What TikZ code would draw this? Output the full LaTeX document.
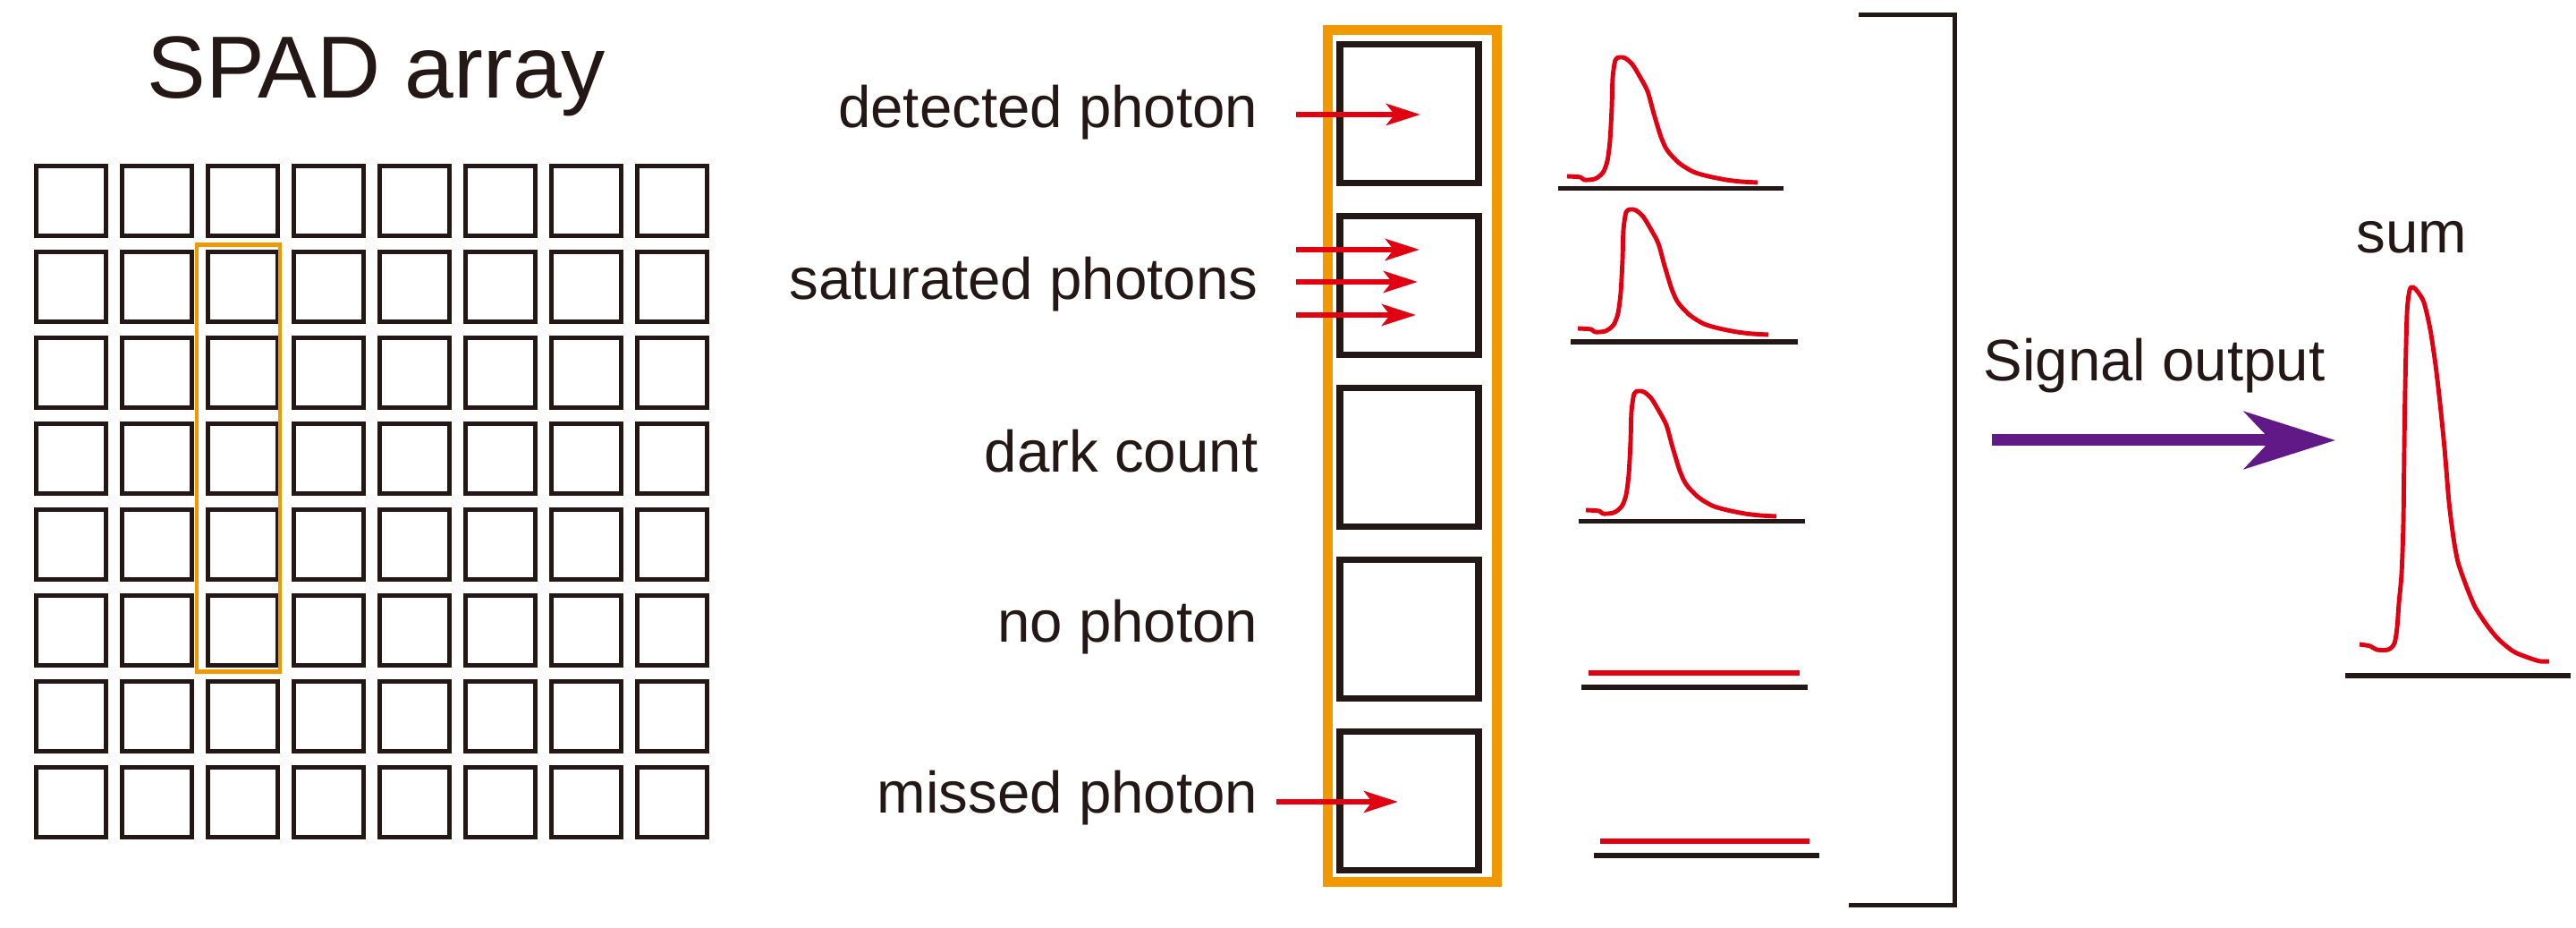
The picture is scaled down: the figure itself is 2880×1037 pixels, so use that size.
\documentclass[tikz,border=0pt]{standalone}
\usepackage{fontspec}
\setmainfont{Liberation Sans}
\usetikzlibrary{arrows.meta}
\definecolor{ink}{RGB}{35,24,21}
\definecolor{sigred}{RGB}{225,0,18}
\definecolor{hlorange}{RGB}{240,152,0}
\definecolor{outpurple}{RGB}{96,25,134}
\begin{document}
\begin{tikzpicture}[x=0.01cm, y=-0.01cm,
  cell/.style={draw=ink, line width=1.42pt, minimum size=0.77cm, inner sep=0pt, outer sep=0pt},
  bigcell/.style={draw=ink, line width=2.2pt, minimum size=1.55cm, inner sep=0pt, outer sep=0pt},
  lab/.style={text=ink, font=\fontsize{18.6}{22}\selectfont, inner sep=0pt, anchor=base east},
  txt/.style={text=ink, font=\fontsize{18.6}{22}\selectfont, inner sep=0pt, anchor=base west},
  photon/.style={draw=sigred, line width=1.85pt, -{Stealth[length=10.8pt,width=6.8pt,inset=2.6pt]}},
  pulse/.style={draw=sigred, line width=1.4pt, line join=round},
  flatln/.style={draw=sigred, line width=1.56pt},
  baseln/.style={draw=ink, line width=1.56pt},
  hlbox/.style={draw=hlorange},
  outarrow/.style={draw=outpurple, line width=3.7pt, -{Stealth[length=29pt,width=18.2pt,inset=8.5pt]}},
  smallpulse/.pic={\draw[pulse] plot[smooth, tension=0.45] coordinates {(-60,133) (-45,134) (-41,137) (-29,136) (-20,129) (-15,116) (-12,93) (-10,56) (-9,23) (-6,3) (-1,0) (5,1) (13,8) (21,21) (30,38) (37,63) (45,89) (52,104) (65,118) (81,128) (98,133) (118,137) (135,139) (153,140)};},
  sumpulse/.pic={\draw[pulse] plot[smooth, tension=0.45] coordinates {(-59,399) (-47,401) (-40,405) (-27,405) (-20,398) (-17,380) (-15,353) (-12,320) (-10,263) (-9,180) (-8,113) (-6,30) (-3,3) (1,0) (6,5) (13,17) (20,47) (26,87) (31,130) (36,180) (41,240) (46,280) (51,307) (60,333) (70,357) (83,377) (96,393) (113,407) (130,414) (143,418) (153,418)};}
]
\fill[white] (0,0) rectangle (2880,1037);
\useasboundingbox (0,0) rectangle (2880,1037);

% title
\node[text=ink, font=\fontsize{28}{32}\selectfont, inner sep=0pt, anchor=base] (title) at (421,110) {SPAD array};

% SPAD grid
\foreach \r in {0,...,7}{
  \foreach \c in {0,...,7}{
    \node[cell] (g\r\c) at ({79.5+96*\c},{224.5+96*\r}) {};
  }
}
\draw[hlbox, line width=1.42pt] (220,273.5) rectangle (313,751);

% enlarged column
\draw[hlbox, line width=3.13pt] (1484,34) rectangle (1673,986);
\foreach \k/\n in {0/b1,1/b2,2/b3,3/b4,4/b5}{
  \node[bigcell] (\n) at (1575.5,{127+192*\k}) {};
}

% labels
\node[lab] (l1) at (1407,143) {detected photon};
\node[lab] (l2) at (1407,335) {saturated photons};
\node[lab] (l3) at (1407,528) {dark count};
\node[lab] (l4) at (1407,718) {no photon};
\node[lab] (l5) at (1407,909) {missed photon};

% photon arrows
\coordinate (a1s) at (1449,128); \coordinate (a1e) at (1588,128);
\coordinate (a2s) at (1449,279); \coordinate (a2e) at (1587,279);
\coordinate (a3s) at (1449,315); \coordinate (a3e) at (1585,315);
\coordinate (a4s) at (1449,352); \coordinate (a4e) at (1583,352);
\coordinate (a5s) at (1427,896); \coordinate (a5e) at (1563,896);
\draw[photon] (a1s) -- (a1e);
\draw[photon] (a2s) -- (a2e);
\draw[photon] (a3s) -- (a3e);
\draw[photon] (a4s) -- (a4e);
\draw[photon] (a5s) -- (a5e);

% pulses
\pic (p1) at (1812,64) {smallpulse};
\pic (p2) at (1824,234) {smallpulse};
\pic (p3) at (1833,437) {smallpulse};
\draw[baseln] (1742,210.5) -- (1994,210.5);
\draw[baseln] (1756,382) -- (2010,382);
\draw[baseln] (1765,582.5) -- (2018,582.5);
\draw[flatln] (1776,752) -- (2012,752);
\draw[baseln] (1768,768) -- (2021,768);
\draw[flatln] (1789,940) -- (2023,940);
\draw[baseln] (1782,956) -- (2034,956);

% bracket
\draw[ink, line width=1.42pt] (2078,17) -- (2185,17) -- (2185,1012) -- (2067,1012);

% output
\node[txt] (sig) at (2217,426) {Signal output};
\coordinate (o1) at (2227,492); \coordinate (o2) at (2611,492);
\draw[outarrow] (o1) -- (o2);
\node[txt] (sum) at (2634,283) {sum};
\pic (ps) at (2697,321) {sumpulse};
\draw[baseln] (2622,755) -- (2874,755);
\end{tikzpicture}
\end{document}
